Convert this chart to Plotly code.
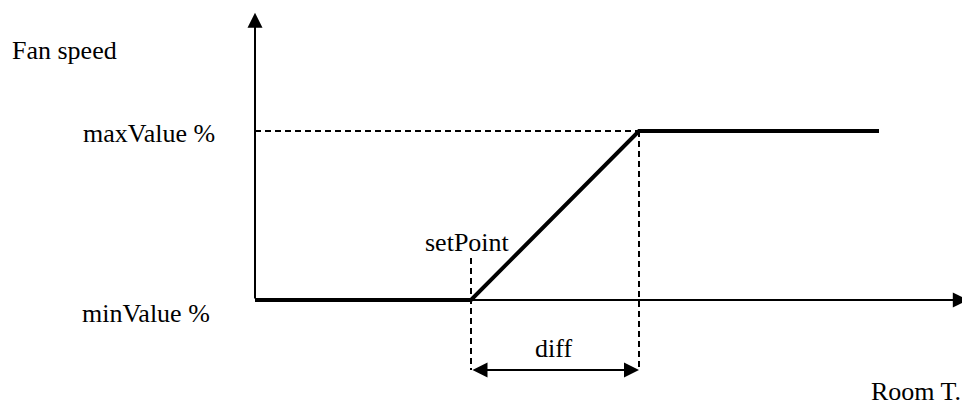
import plotly.graph_objects as go

# ---- data (conceptual units) ----
room_t = [0, 9, 16, 26]          # room temperature (arbitrary units)
fan_speed = [0, 0, 100, 100]     # fan speed %
set_point = 9
diff = 7
min_value = 0
max_value = 100
axis_x_end = 29.7
axis_y_end = 170

label_fan = "Fan speed"
label_room = "Room T."
label_max = "maxValue %"
label_min = "minValue %"
label_set = "setPoint"
label_diff = "diff"

# ---- pixel-based scale helpers (layout) ----
OFF = 8                 # page body margin
W, H = 970 - OFF, 408 - OFF
PX_X = 24.0             # px per x unit
PX_Y = 1.69             # px per y unit
X0, Y0 = 255, 300       # screen pixel position of origin

def dx(px):
    return (px - X0) / PX_X

def dy(py):
    return (Y0 - py) / PX_Y

FONT = dict(family="Liberation Serif, Times New Roman, serif", size=26, color="black")

fig = go.Figure()

# main characteristic line
fig.add_trace(go.Scatter(x=room_t, y=fan_speed, mode="lines",
                         line=dict(color="black", width=4),
                         hoverinfo="skip", showlegend=False))

dash = "6px,4px"
arrow_y = dy(370)
# dashed guide lines
fig.add_trace(go.Scatter(x=[0, set_point + diff], y=[max_value, max_value], mode="lines",
                         line=dict(color="black", width=2, dash=dash),
                         hoverinfo="skip", showlegend=False))
fig.add_trace(go.Scatter(x=[set_point + diff, set_point + diff], y=[max_value, arrow_y], mode="lines",
                         line=dict(color="black", width=2, dash=dash),
                         hoverinfo="skip", showlegend=False))
fig.add_trace(go.Scatter(x=[set_point, set_point], y=[dy(258), arrow_y], mode="lines",
                         line=dict(color="black", width=2, dash=dash),
                         hoverinfo="skip", showlegend=False))

annotations = []
# axes with arrows
annotations.append(dict(x=axis_x_end, y=min_value, ax=0, ay=min_value,
                        xref="x", yref="y", axref="x", ayref="y", text="",
                        showarrow=True, arrowhead=2, arrowsize=1.5, arrowwidth=2, arrowcolor="black"))
annotations.append(dict(x=0, y=axis_y_end, ax=0, ay=min_value,
                        xref="x", yref="y", axref="x", ayref="y", text="",
                        showarrow=True, arrowhead=2, arrowsize=1.5, arrowwidth=2, arrowcolor="black"))
# diff double arrow
annotations.append(dict(x=set_point + diff, y=arrow_y, ax=set_point, ay=arrow_y,
                        xref="x", yref="y", axref="x", ayref="y", text="",
                        showarrow=True, arrowhead=2, startarrowhead=2, arrowside="end+start",
                        arrowsize=1.5, startarrowsize=1.5, arrowwidth=2, arrowcolor="black"))

# text labels
annotations.append(dict(x=dx(10), y=dy(50), text=label_fan, showarrow=False,
                        xanchor="left", yanchor="middle", font=FONT))
annotations.append(dict(x=dx(217), y=dy(133), text=label_max, showarrow=False,
                        xanchor="right", yanchor="middle", font=FONT))
annotations.append(dict(x=dx(212), y=dy(313), text=label_min, showarrow=False,
                        xanchor="right", yanchor="middle", font=FONT))
annotations.append(dict(x=dx(467), y=dy(242), text=label_set, showarrow=False,
                        xanchor="center", yanchor="middle", font=FONT))
annotations.append(dict(x=dx(553), y=dy(348), text=label_diff, showarrow=False,
                        xanchor="center", yanchor="middle", font=FONT))
annotations.append(dict(x=dx(963), y=dy(391), text=label_room, showarrow=False,
                        xanchor="right", yanchor="middle", font=FONT))

fig.update_layout(
    width=W, height=H,
    margin=dict(l=0, r=0, t=0, b=0),
    paper_bgcolor="white", plot_bgcolor="white",
    xaxis=dict(range=[dx(OFF), dx(OFF + W)], visible=False, fixedrange=True),
    yaxis=dict(range=[dy(OFF + H), dy(OFF)], visible=False, fixedrange=True),
    annotations=annotations,
    showlegend=False,
)

fig.write_html("out.html", config={"displayModeBar": False})
